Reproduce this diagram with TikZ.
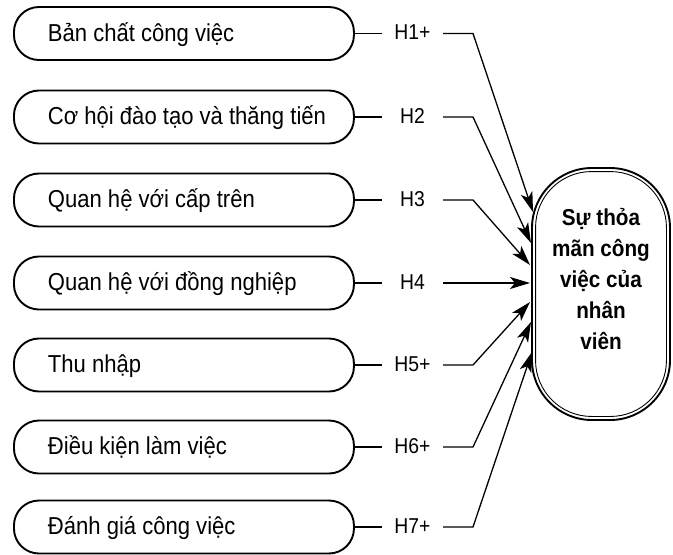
\documentclass[tikz,border=0pt]{standalone}
\usepackage{fontspec}
\setmainfont{Liberation Sans}
\newfontfamily\narrowfont[FakeStretch=0.9]{Liberation Sans}
\usetikzlibrary{arrows.meta,calc}
\newcommand{\boxtext}[1]{\makebox[272pt][l]{#1}}
\begin{document}
\begin{tikzpicture}[x=1pt,y=-1pt,
  factor/.style={draw, line width=1.9pt, rounded corners=25pt, minimum height=53pt,
    inner xsep=34pt, inner ysep=0pt, anchor=west,
    font=\narrowfont\fontsize{24.5}{28}\selectfont, text height=20pt, text depth=5pt},
  hyp/.style={minimum width=61pt, inner sep=0pt, font=\narrowfont\fontsize{21.5}{24}\selectfont,
    text height=16pt, text depth=4pt},
  link/.style={line width=1.3pt},
  arr/.style={line width=1.3pt, -{Stealth[length=20pt,width=12pt,inset=5pt]}},
  outcome/.style={draw, line width=1.9pt, rounded corners=60pt, minimum width=138pt,
    minimum height=252pt, inner sep=0pt},
  outtext/.style={align=center, font=\narrowfont\bfseries\fontsize{23}{31}\selectfont, inner sep=0pt}
]
\useasboundingbox[fill=white] (0,0) rectangle (673,555);

% factor boxes
\node[factor] (b1) at (13,33.5) {\boxtext{Bản chất công việc}};
\node[factor] (b2) at (13,117) {\boxtext{Cơ hội đào tạo và thăng tiến}};
\node[factor] (b3) at (13,200) {\boxtext{Quan hệ với cấp trên}};
\node[factor] (b4) at (13,283) {\boxtext{Quan hệ với đồng nghiệp}};
\node[factor] (b5) at (13,365) {\boxtext{Thu nhập}};
\node[factor] (b6) at (13,447) {\boxtext{Điều kiện làm việc}};
\node[factor] (b7) at (13,527) {\boxtext{Đánh giá công việc}};

% hypothesis labels
\node[hyp] (h1) at (412.5,33.5) {H1+};
\node[hyp] (h2) at (412.5,117) {H2};
\node[hyp] (h3) at (412.5,200) {H3};
\node[hyp] (h4) at (412.5,283) {H4};
\node[hyp] (h5) at (412.5,365) {H5+};
\node[hyp] (h6) at (412.5,447) {H6+};
\node[hyp] (h7) at (412.5,527) {H7+};

% outcome node
\node[outcome] (r) at (601,294) {};
\draw[line width=0.9pt, rounded corners=56pt]
  ($(r.north west)+(4.5,4.5)$) rectangle ($(r.south east)+(-4.5,-4.5)$);
\node[outtext] (rt) at (601,279) {Sự thỏa\\mãn công\\việc của\\nhân\\viên};

% bends and tips
\coordinate (k1) at (473,33.5);
\coordinate (k2) at (473,117);
\coordinate (k3) at (473,200);
\coordinate (k5) at (473,365);
\coordinate (k6) at (473,447);
\coordinate (k7) at (473,527);
\coordinate (t1) at (533,212);
\coordinate (t2) at (531,243);
\coordinate (t3) at (530,265);
\coordinate (t4) at (530,283);
\coordinate (t5) at (530,302);
\coordinate (t6) at (531,322);
\coordinate (t7) at (532,352);

% stubs
\foreach \i in {1,...,7}{
  \draw[link] (b\i.east) -- (h\i.west);
}
\draw[arr] (h1.east) -- (k1) -- (t1);
\draw[arr] (h2.east) -- (k2) -- (t2);
\draw[arr] (h3.east) -- (k3) -- (t3);
\draw[arr] (h4.east) -- (t4);
\draw[arr] (h5.east) -- (k5) -- (t5);
\draw[arr] (h6.east) -- (k6) -- (t6);
\draw[arr] (h7.east) -- (k7) -- (t7);
\end{tikzpicture}
\end{document}
